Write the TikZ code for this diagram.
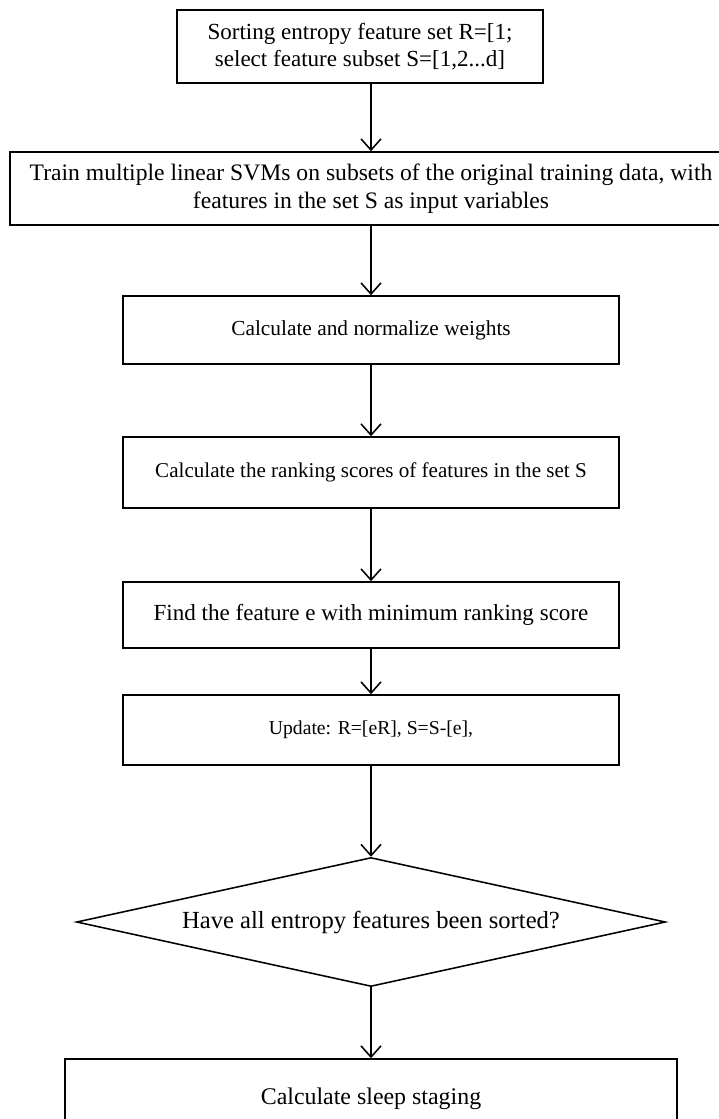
\documentclass[tikz,border=0pt]{standalone}
\usepackage{fontspec}
\setmainfont{Liberation Serif}
\usepackage{tikz}
\usetikzlibrary{shapes.geometric,arrows.meta,positioning,calc}

\newcommand{\fsz}[1]{\fontsize{#1}{19.5}\selectfont}

\begin{document}
\begin{tikzpicture}[
    box/.style={draw, rectangle, line width=1.1pt, align=center, inner sep=2pt},
    flow/.style={-{Straight Barb[length=2.8mm,width=5mm]}, line width=1.1pt},
    font=\fsz{17}]
    \useasboundingbox (0,0) rectangle (17.95,-27.975);

    % steps
    \node [box, font=\fsz{16.4}, minimum width=9.15cm, minimum height=1.825cm] (sort) at (9.0,-1.1625)
        {Sorting entropy feature set R=[1;\\select feature subset S=[1,2...d]};
    \node [box, font=\fsz{16.8}, minimum width=18.05cm, minimum height=1.825cm] (train) at (9.275,-4.7125)
        {Train multiple linear SVMs on subsets of the original training data, with\\features in the set S as input variables};
    \node [box, font=\fsz{15.2}, minimum width=12.4cm, minimum height=1.7cm] (weights) at (9.275,-8.25)
        {Calculate and normalize weights};
    \node [box, font=\fsz{15}, minimum width=12.4cm, minimum height=1.775cm] (rank) at (9.275,-11.8125)
        {Calculate the ranking scores of features in the set S};
    \node [box, font=\fsz{16.4}, minimum width=12.4cm, minimum height=1.65cm] (findmin) at (9.275,-15.375)
        {Find the feature e with minimum ranking score};
    \node [box, font=\fsz{14}, minimum width=12.4cm, minimum height=1.75cm] (update) at (9.275,-18.25)
        {Update: R=[eR], S=S-[e],};

    % decision
    \node [draw, diamond, aspect=4.57, font=\fsz{17.5}, line width=1.1pt, inner sep=0pt, minimum width=14.725cm, minimum height=3.225cm] (check) at (9.275,-23.05)
        {Have all entropy features been sorted?};

    % result
    \node [box, minimum width=15.3cm, minimum height=2cm] (staging) at (9.275,-27.475)
        {Calculate sleep staging};

    % arrows
    \draw [flow] (sort.south -| train.north) -- (train.north);
    \draw [flow] (train) -- (weights);
    \draw [flow] (weights) -- (rank);
    \draw [flow] (rank) -- (findmin);
    \draw [flow] (findmin) -- (update);
    \draw [flow] (update) -- (check);
    \draw [flow] (check) -- (staging);

\end{tikzpicture}
\end{document}
